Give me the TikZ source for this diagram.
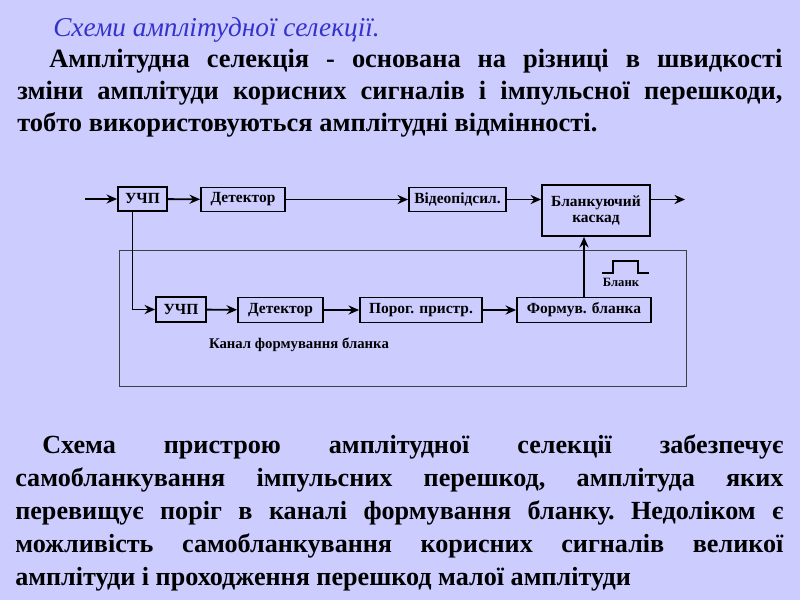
\documentclass[tikz,border=0pt]{standalone}
\usepackage{fontspec}
\setmainfont{Liberation Serif}
\usepackage{xcolor}
\usetikzlibrary{arrows.meta}
\definecolor{slide}{RGB}{204,204,255}
\definecolor{titleblue}{RGB}{51,51,204}

\begin{document}
\begin{tikzpicture}[x=0.025cm,y=-0.025cm,
	blk/.style={draw,line width=1.3pt,inner sep=0pt,minimum height=0.6cm,font=\fontsize{11}{12}\selectfont\bfseries},
	wire/.style={line width=1.3pt},
	arr/.style={wire,-{Stealth[length=7.5pt,width=6.5pt,inset=2.5pt]}},
	lbl/.style={inner sep=0pt,font=\fontsize{10.5}{12}\selectfont\bfseries},
	para/.style={inner sep=0pt,anchor=base west}]

	\fill[slide] (0,0) rectangle (800,600);
	\useasboundingbox (0,0) rectangle (800,600);

	\node[anchor=base west,inner sep=0pt,text=titleblue,font=\fontsize{19.4}{22}\selectfont\itshape] (title) at (53,36) {Схеми амплітудної селекції.};

	\node[para] (top) at (17,67) {\parbox[t]{19.125cm}{\fontsize{18.8}{22.8}\selectfont\bfseries
		\frenchspacing\hyphenpenalty=10000 \setlength{\parindent}{0.8cm}%
		Амплітудна селекція - основана на різниці в швидкості\linebreak
		зміни амплітуди корисних сигналів і імпульсної перешкоди,\linebreak
		тобто використовуються амплітудні відмінності.}};

	\def \bw {1.225cm}
	\node[blk,minimum width=\bw] (u1) at (142.5,199) {УЧП};
	\node[blk,minimum width=2.1cm] (d1) at (243,199.5) {Детектор};
	\node[blk,minimum width=2.425cm] (v) at (457.5,199.5) {Відеопідсил.};
	\node[blk,minimum width=2.7cm,minimum height=1.275cm,align=center] (b) at (596,210.5) {Бланкуючий\\каскад};

	\draw[line width=0.7pt,black!75] (119,250) rectangle (686,386);

	\node[blk,minimum width=1.25cm,minimum height=0.625cm] (u2) at (181,309.5) {УЧП};
	\node[blk,minimum width=2.125cm,minimum height=0.625cm] (d2) at (280.5,310) {Детектор};
	\node[blk,minimum width=3.05cm,minimum height=0.625cm] (p) at (421,310) {Порог. пристр.};
	\node[blk,minimum width=3.35cm,minimum height=0.625cm] (f) at (584,310) {Формув. бланка};

	\node[lbl] (chan) at (299,345) {Канал формування бланка};
	\node[lbl,font=\fontsize{9}{10}\selectfont\bfseries] (blank) at (621,282) {Бланк};
	\draw[line width=0.8pt] (602,273) -- (613,273) -- (613,261) -- (638,261) -- (638,273) -- (649,273);

	\coordinate (in) at (85,199);
	\coordinate (out) at (685,199.5);
	\draw[arr] (in) -- (u1);
	\draw[arr] (u1) -- (d1);
	\draw[arr] (d1) -- (v);
	\draw[arr] (v.east) -- (v.east -| b.west);
	\draw[arr] (v.east -| b.east) -- (out);
	\draw[arr] ([xshift=-0.25cm]u1.south) |- (u2);
	\draw[arr] (u2) -- (d2);
	\draw[arr] (d2) -- (p);
	\draw[arr] (p) -- (f);
	\draw[arr] (f.north) -- (f.north |- b.south);

	\node[para] (bottom) at (15,453) {\parbox[t]{19.2cm}{\fontsize{18.6}{23.5}\selectfont\bfseries
		\frenchspacing\hyphenpenalty=10000 \setlength{\parindent}{0.675cm}%
		Схема пристрою амплітудної селекції забезпечує\linebreak
		самобланкування імпульсних перешкод, амплітуда яких\linebreak
		перевищує поріг в каналі формування бланку. Недоліком є\linebreak
		можливість самобланкування корисних сигналів великої\linebreak
		амплітуди і проходження перешкод малої амплітуди}};

\end{tikzpicture}
\end{document}
